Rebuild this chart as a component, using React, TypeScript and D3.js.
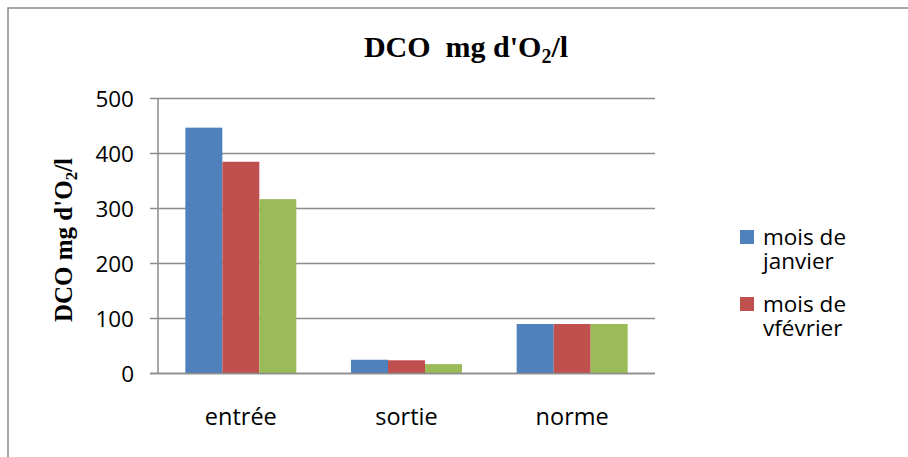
import React from "react";
import * as d3 from "d3";

// Chart data
const categories = ["entrée", "sortie", "norme"];
const seriesNames = ["mois de janvier", "mois de vfévrier", "mois de mars"];
const janvier = [447, 25, 90];
const fevrier = [385, 24, 90];
const mars = [317, 17, 90];
const yTicks = [0, 100, 200, 300, 400, 500];
// Legend entries as wrapped lines (only two fit in the legend box)
const legendLines = [
  ["mois de", "janvier"],
  ["mois de", "vfévrier"],
];

const colors = ["#4F81BD", "#C0504D", "#9BBB59"];

const W = 908;
const H = 457;
const plot = { left: 158, right: 655, top: 98.5, bottom: 373.5 };
const sansFont = "'Open Sans', 'Noto Sans', sans-serif";
const serifFont = "'Liberation Serif', 'DejaVu Serif', serif";

export default function App() {
  const values = [janvier, fevrier, mars];

  const y = d3.scaleLinear().domain([0, 500]).range([plot.bottom, plot.top]);
  const x0 = d3
    .scaleBand<string>()
    .domain(categories)
    .range([plot.left, plot.right])
    .paddingInner(0.33)
    .paddingOuter(0.165);
  const x1 = d3
    .scaleBand<string>()
    .domain(seriesNames)
    .range([0, x0.bandwidth()])
    .padding(0);

  const gridColor = "#8c8c8c";

  return (
    <svg
      width={W}
      height={H}
      style={{ position: "fixed", left: 0, top: 0, background: "#fff" }}
    >
      {/* chart frame (left and top edges visible) */}
      <path d={`M8,${H} V8 H${W}`} fill="none" stroke="#8a8a8a" strokeWidth={1.5} />

      {/* title */}
      <text
        x={466}
        y={57}
        textAnchor="middle"
        fontFamily={serifFont}
        fontWeight="bold"
        fontSize={30}
        fill="#000"
        style={{ whiteSpace: "pre" }}
      >
        {"DCO  mg d'O"}
        <tspan fontSize={20} dy={6}>2</tspan>
        <tspan dy={-6}>/l</tspan>
      </text>

      {/* y axis title */}
      <text
        transform="translate(72,240) rotate(-90)"
        textAnchor="middle"
        fontFamily={serifFont}
        fontWeight="bold"
        fontSize={25}
        fill="#000"
      >
        {"DCO mg d'O"}
        <tspan fontSize={17} dy={5}>2</tspan>
        <tspan dy={-5}>/l</tspan>
      </text>

      {/* gridlines and ticks */}
      {yTicks.map((t) => (
        <g key={t}>
          <line
            x1={plot.left - 8}
            x2={plot.right}
            y1={y(t)}
            y2={y(t)}
            stroke={gridColor}
            strokeWidth={1.5}
          />
          <text
            x={134}
            y={y(t)}
            dy="0.36em"
            textAnchor="end"
            fontFamily={sansFont}
            fontSize={22.5}
            fill="#000"
          >
            {t}
          </text>
        </g>
      ))}
      <line
        x1={plot.left}
        x2={plot.left}
        y1={plot.top}
        y2={plot.bottom}
        stroke={gridColor}
        strokeWidth={1.5}
      />

      {/* bars */}
      {categories.map((c, ci) => (
        <g key={c} transform={`translate(${x0(c)},0)`}>
          {seriesNames.map((s, si) => {
            const v = values[si][ci];
            return (
              <rect
                key={s}
                x={x1(s)}
                y={y(v)}
                width={x1.bandwidth()}
                height={y(0) - y(v)}
                fill={colors[si]}
              />
            );
          })}
        </g>
      ))}
      {/* zero line drawn over bars */}
      <line
        x1={plot.left - 8}
        x2={plot.right}
        y1={y(0)}
        y2={y(0)}
        stroke={gridColor}
        strokeWidth={1.5}
      />

      {/* category labels */}
      {categories.map((c) => (
        <text
          key={c}
          x={(x0(c) ?? 0) + x0.bandwidth() / 2}
          y={425}
          textAnchor="middle"
          fontFamily={sansFont}
          fontSize={23.5}
          fill="#000"
        >
          {c}
        </text>
      ))}

      {/* legend */}
      {legendLines.map((lines, i) => (
        <g key={i} transform={`translate(740,${230 + i * 67})`}>
          <rect x={0} y={0} width={14} height={14} fill={colors[i]} />
          {lines.map((ln, li) => (
            <text
              key={li}
              x={23}
              y={15 + li * 23.5}
              fontFamily={sansFont}
              fontSize={22.5}
              fill="#000"
            >
              {ln}
            </text>
          ))}
        </g>
      ))}
    </svg>
  );
}
